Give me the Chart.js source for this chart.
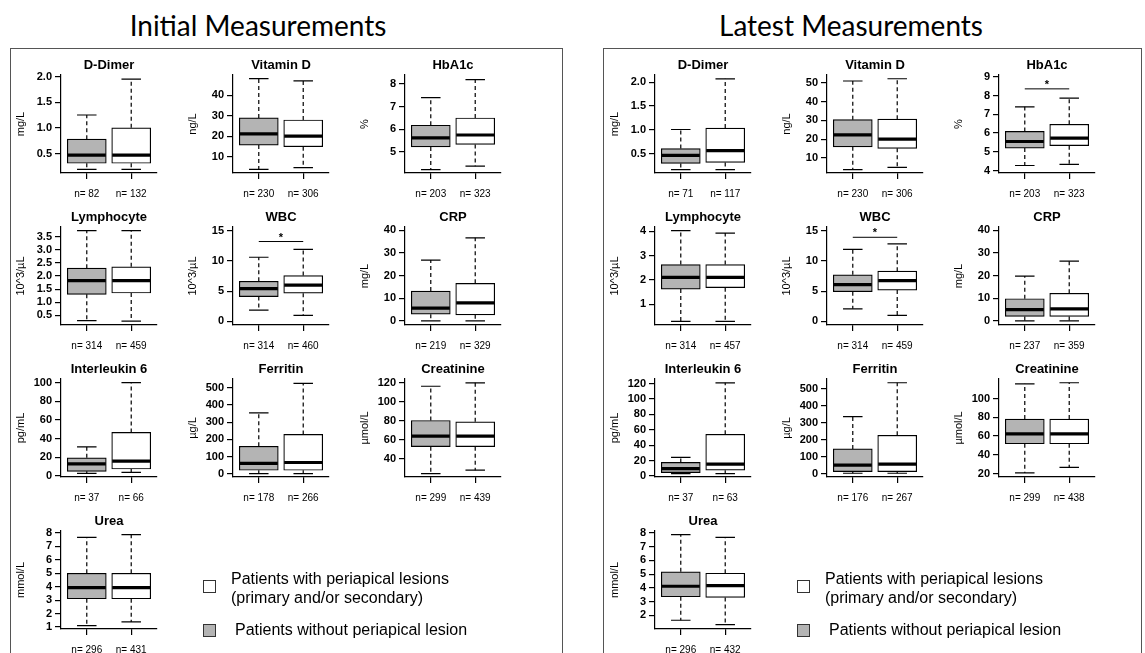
<!DOCTYPE html>
<html><head><meta charset="utf-8">
<script src="https://cdn.jsdelivr.net/npm/chart.js@4.4.0/dist/chart.umd.min.js"></script>
<style>
body{margin:0;background:#fff;width:1145px;height:653px;overflow:hidden;position:relative;font-family:"Liberation Sans",Arial,sans-serif;}
.panel{position:absolute;top:48px;height:640px;border:1.5px solid #555;box-sizing:border-box;}
.head{position:absolute;top:11px;width:400px;text-align:center;font-family:Lato,"Open Sans",sans-serif;font-size:28px;line-height:28px;color:#000;}
canvas{position:absolute;}
.sq{position:absolute;width:11px;height:11px;border:1.3px solid #333;}
.lt{position:absolute;font-size:16px;line-height:19px;color:#000;white-space:nowrap;}
</style></head><body>
<div class="panel" style="left:10px;width:553px"></div>
<div class="panel" style="left:603px;width:539px"></div>
<div class="head" style="left:58px">Initial Measurements</div>
<div class="head" style="left:651px">Latest Measurements</div>
<div id="wrap"></div>
<script>
const measures = ["D-Dimer","Vitamin D","HbA1c","Lymphocyte","WBC","CRP","Interleukin 6","Ferritin","Creatinine","Urea"];
const units = ["mg/L","ng/L","%","10^3/\u00b5L","10^3/\u00b5L","mg/L","pg/mL","\u00b5g/L","\u00b5mol/L","mmol/L"];
const legendLabels = ["Patients with periapical lesions", "(primary and/or secondary)", "Patients without periapical lesion"];

// [lower whisker, Q1, median, Q3, upper whisker]
const initialWithout = [[0.19,0.31,0.47,0.78,1.25],[3.9,15.7,21.1,28.9,48],[4.22,5.22,5.62,6.18,7.4],[0.3,1.3,1.82,2.3,3.73],[1.85,4.1,5.4,6.63,10.6],[0,3.0,5.7,13.2,26.9],[2.6,4.8,12.8,19.3,31],[2,21,61,160,354],[24.6,52.9,64,80.4,116.4],[1.1,3.1,3.93,5.0,7.68]];
const initialWith = [[0.19,0.31,0.47,1.0,1.95],[4.7,14.9,20,27.9,46.9],[4.37,5.33,5.75,6.5,8.2],[0.28,1.35,1.82,2.35,3.73],[1.0,4.66,6.0,7.58,11.9],[0,2.7,8.0,16.6,36.7],[3.7,7.3,15.7,46.6,100],[2,21,66,229,525],[28.2,52.9,64,79,120],[1.38,3.1,3.93,5.0,7.88]];
const latestWithout = [[0.17,0.3,0.47,0.61,1.01],[3.7,15.9,22.3,30.4,51.1],[4.27,5.2,5.55,6.09,7.4],[0.29,1.62,2.1,2.63,4.03],[2.08,4.9,6.07,7.7,11.9],[0,2.0,5.0,9.8,19.8],[3.1,4.4,9.7,17.6,24.2],[2,12,50,145,335],[20.7,51.8,62.4,78.2,115.8],[1.64,3.35,4.12,5.17,7.88]];
const latestWith = [[0.17,0.32,0.57,1.04,2.07],[4.9,15.1,20,30.7,52.3],[4.33,5.33,5.73,6.47,7.87],[0.29,1.68,2.1,2.63,3.93],[1.0,5.17,6.74,8.3,12.8],[0,2.0,5.3,12.2,26.4],[3.1,7.5,15.4,54.2,121],[2,12,56,225,534],[26.5,51.8,62.4,78.2,117],[1.32,3.3,4.17,5.07,7.69]];

// n = [without lesion, with lesion]
const initialN = [[82,132],[230,306],[203,323],[314,459],[314,460],[219,329],[37,66],[178,266],[299,439],[296,431]];
const latestN = [[71,117],[230,306],[203,323],[314,457],[314,459],[237,359],[37,63],[176,267],[299,438],[296,432]];

const initialTicks = [["0.5","1.0","1.5","2.0"],["10","20","30","40"],["5","6","7","8"],["0.5","1.0","1.5","2.0","2.5","3.0","3.5"],["0","5","10","15"],["0","10","20","30","40"],["0","20","40","60","80","100"],["0","100","200","300","400","500"],["40","60","80","100","120"],["1","2","3","4","5","6","7","8"]];
const latestTicks = [["0.5","1.0","1.5","2.0"],["10","20","30","40","50"],["4","5","6","7","8","9"],["1","2","3","4"],["0","5","10","15"],["0","10","20","30","40"],["0","20","40","60","80","100","120"],["0","100","200","300","400","500"],["20","40","60","80","100"],["2","3","4","5","6","7","8"]];

const initialRange = [[0.12,2.03],[2.1,49.8],[4.07,8.4],[0.13,3.87],[-0.6,15.6],[-1.8,41.5],[-1.3,104],[-18,550],[21,124],[0.85,8.15]];
const latestRange = [[0.1,2.15],[1.9,54.3],[3.87,9.1],[0.14,4.18],[-0.6,15.6],[-1.8,41.5],[-1.3,126],[-20,556],[16.3,121],[1.0,8.15]];

// significance bar level (null = none)
const initialSig = [null,null,null,null,13.2,null,null,null,null,null];
const latestSig = [null,null,8.36,null,13.9,null,null,null,null,null];

const FONT = '"Liberation Sans", Arial, sans-serif';
const GREY = '#b4b4b4';
const BOXW = 39;

const boxPlugin = {
  id: 'boxparts',
  afterDatasetsDraw(chart, args, o) {
    const ctx = chart.ctx, x = chart.scales.x, y = chart.scales.y;
    const half = o.width / 2;
    ctx.save();
    ctx.strokeStyle = '#000';
    o.groups.forEach((g, i) => {
      const cx = x.getPixelForValue(i + 1);
      const [lo, q1, med, q3, hi] = g;
      const yLo = y.getPixelForValue(lo), yQ1 = y.getPixelForValue(q1), yM = y.getPixelForValue(med), yQ3 = y.getPixelForValue(q3), yHi = y.getPixelForValue(hi);
      ctx.lineWidth = 1.2;
      ctx.setLineDash([4, 3]);
      ctx.beginPath();
      ctx.moveTo(cx, yQ3); ctx.lineTo(cx, yHi);
      ctx.moveTo(cx, yQ1); ctx.lineTo(cx, yLo);
      ctx.stroke();
      ctx.setLineDash([]);
      ctx.beginPath();
      ctx.moveTo(cx - half / 2, yHi); ctx.lineTo(cx + half / 2, yHi);
      ctx.moveTo(cx - half / 2, yLo); ctx.lineTo(cx + half / 2, yLo);
      ctx.stroke();
      ctx.lineWidth = 3.2;
      ctx.beginPath();
      ctx.moveTo(cx - half + 0.5, yM); ctx.lineTo(cx + half - 0.5, yM);
      ctx.stroke();
    });
    if (o.sig !== null && o.sig !== undefined) {
      const yl = y.getPixelForValue(o.sig);
      const x1 = x.getPixelForValue(1), x2 = x.getPixelForValue(2);
      ctx.lineWidth = 1;
      ctx.beginPath(); ctx.moveTo(x1, yl); ctx.lineTo(x2, yl); ctx.stroke();
      ctx.fillStyle = '#000';
      ctx.font = 'bold 11px ' + FONT;
      ctx.textAlign = 'center'; ctx.textBaseline = 'alphabetic';
      ctx.fillText('*', (x1 + x2) / 2, yl - 1);
    }
    ctx.restore();
  }
};

const wrap = document.getElementById('wrap');
const AXW = 55, AXH = 36, TOPH = 26, PLOTH = 98, PLOTW = 96, RPAD = 20;

function makeChart(panelDx, i, without, withL, nArr, ticksArr, range, sig) {
  const row = Math.floor(i / 3), col = i % 3;
  const axisX = 61 + col * 172 + panelDx;
  const axisTop = 75 + row * 152;
  const cv = document.createElement('canvas');
  cv.width = AXW + PLOTW + RPAD; cv.height = TOPH + PLOTH + AXH;
  cv.style.left = (axisX - AXW) + 'px';
  cv.style.top = (axisTop - TOPH) + 'px';
  wrap.appendChild(cv);
  const labels = ticksArr;
  const vals = labels.map(parseFloat);
  const n = nArr;
  const gridOpt = {drawOnChartArea: false, drawTicks: true, tickLength: 6, color: '#000', lineWidth: 1.2, offset: false};
  const borderOpt = {display: true, color: '#000', width: 1.2};
  new Chart(cv, {
    type: 'bar',
    data: {datasets: [{
      data: [{x: 1, y: [without[1], without[3]]}, {x: 2, y: [withL[1], withL[3]]}],
      backgroundColor: [GREY, '#ffffff'], borderColor: '#000', borderWidth: 1.2,
      borderSkipped: false, barThickness: BOXW
    }]},
    options: {
      responsive: false, animation: false, events: [],
      layout: {padding: {left: 0, right: RPAD, top: 0, bottom: 0}},
      plugins: {
        legend: {display: false}, tooltip: {enabled: false},
        title: {display: true, text: measures[i], fullSize: false, color: '#000',
          font: {family: FONT, size: 13, weight: 'bold', lineHeight: 1.2}, padding: {top: 8.2, bottom: 2.2}},
        boxparts: {groups: [without, withL], width: BOXW, sig: sig}
      },
      scales: {
        x: {type: 'linear', min: 0.42, max: 2.58, offset: false, bounds: 'ticks',
          afterDataLimits: s => { s.min = 0.42; s.max = 2.58; },
          afterBuildTicks: s => { s.ticks = [{value: 1}, {value: 2}]; },
          afterFit: s => { s.height = AXH; },
          grid: gridOpt, border: borderOpt,
          ticks: {color: '#000', font: {family: FONT, size: 10}, padding: 9, maxRotation: 0, autoSkip: false,
            callback: v => 'n= ' + n[Math.round(v) - 1]}},
        y: {type: 'linear', min: range[0], max: range[1],
          afterBuildTicks: s => { s.ticks = vals.map(v => ({value: v})); },
          afterFit: s => { s.width = AXW; },
          grid: gridOpt, border: borderOpt,
          ticks: {color: '#000', font: {family: FONT, size: 11, weight: 'bold'}, padding: 3, autoSkip: false,
            callback: (v, k) => labels[k]},
          title: {display: true, text: units[i], color: '#000', font: {family: FONT, size: 11}, padding: {top: 8.4, bottom: 0}}}
      }
    },
    plugins: [boxPlugin]
  });
}

for (let i = 0; i < measures.length; i++) {
  makeChart(0, i, initialWithout[i], initialWith[i], initialN[i], initialTicks[i], initialRange[i], initialSig[i]);
  makeChart(594, i, latestWithout[i], latestWith[i], latestN[i], latestTicks[i], latestRange[i], latestSig[i]);
}

function legend(dx) {
  const add = (cls, css, txt) => { const d = document.createElement('div'); d.className = cls; d.style.cssText = css; if (txt) d.textContent = txt; document.body.appendChild(d); };
  add('sq', `left:${203 + dx}px;top:580px;background:#fff`);
  add('lt', `left:${231 + dx}px;top:569px`, legendLabels[0]);
  add('lt', `left:${231 + dx}px;top:588px`, legendLabels[1]);
  add('sq', `left:${203 + dx}px;top:624px;background:${GREY}`);
  add('lt', `left:${235 + dx}px;top:620px`, legendLabels[2]);
}
legend(0); legend(594);
</script>
</body></html>
